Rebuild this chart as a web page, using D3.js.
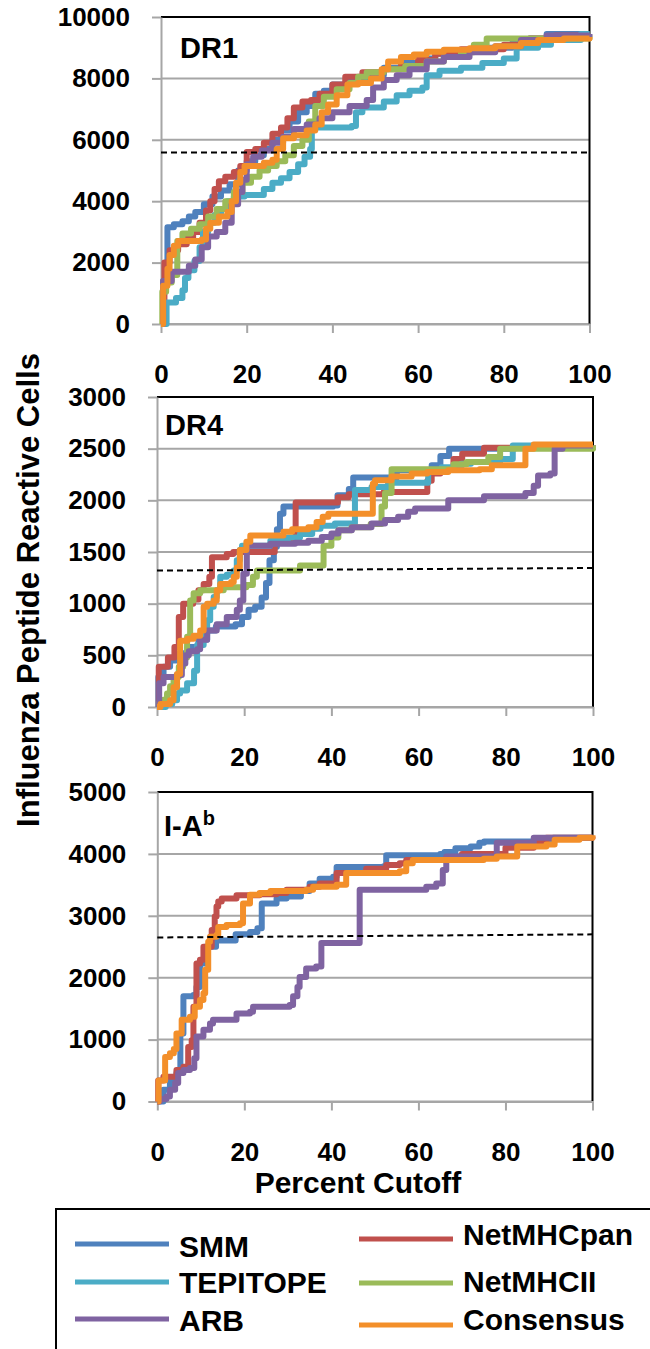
<!DOCTYPE html>
<html>
<head>
<meta charset="utf-8">
<script src="https://cdn.jsdelivr.net/npm/d3@7"></script>
<style>
  body { margin: 0; background: #fff; }
  text { font-family: "Liberation Sans", Arial, sans-serif; font-weight: bold; fill: #000; }
</style>
</head>
<body>
<svg width="650" height="1349"></svg>
<script>
// ---- data: [percent cutoff, reactive cells] ----
var methods = ["SMM", "TEPITOPE", "ARB", "NetMHCpan", "NetMHCII", "Consensus"];
var xTicks = [0, 20, 40, 60, 80, 100];
var dr1Ticks = [0, 2000, 4000, 6000, 8000, 10000];
var dr4Ticks = [0, 500, 1000, 1500, 2000, 2500, 3000];
var iabTicks = [0, 1000, 2000, 3000, 4000, 5000];

var dr1SMM = [[0,0],[0.5,1400],[1.5,3150],[3,3250],[5,3350],[6.5,3500],[8,3650],[10,3900],[12,4150],[14,4350],[16,4550],[18,5000],[20,5300],[22,5500],[24,5700],[26,6000],[28,6300],[30,6600],[32,6900],[34,7100],[36,7500],[38,7600],[40,7800],[44,7900],[48,8100],[52,8350],[56,8500],[60,8650],[64,8800],[70,8900],[76,9000],[82,9150],[86,9300],[90,9450],[100,9450]];
var dr1NetMHCpan = [[0,0],[0.8,2000],[2,2400],[4,2600],[6,2800],[7.5,3000],[9,3300],[10.5,3700],[11.5,4000],[12.5,4400],[13.5,4650],[15,4800],[17,4950],[18.5,5150],[20,5600],[22,5700],[24,5900],[26,6200],[28,6400],[29.5,6700],[31,7050],[33,7250],[35,7300],[37,7500],[40,7800],[43,8050],[47,8200],[52,8300],[56,8400],[60,8600],[64,8800],[70,8950],[80,9100],[86,9300],[92,9400],[100,9400]];
var dr1TEPITOPE = [[0,0],[1.3,700],[3.5,850],[5,1100],[5.6,1500],[6.4,1750],[7.8,2050],[9,2500],[9.8,3000],[11,3300],[12.5,3550],[14,3750],[15.5,4000],[17,4150],[19.5,4200],[24,4400],[26,4600],[28,4750],[30,4950],[32,5200],[33.5,5450],[34.8,5700],[35.2,6400],[44.5,6450],[45.5,6900],[47,7050],[52,7250],[55,7450],[58,7600],[61,7700],[62,8100],[65,8250],[70,8350],[75,8500],[80,8650],[83,9000],[88,9100],[91,9250],[98,9450],[100,9450]];
var dr1NetMHCII = [[0,0],[0.3,1050],[1.2,1350],[2.5,1600],[3.8,2700],[5,2950],[7,3100],[9,3250],[11,3500],[13,3750],[15,4000],[17,4300],[19,4600],[21,4800],[23,5000],[25,5150],[27,5300],[29,5500],[31,5800],[33,6000],[34.5,6600],[36,7100],[38,7400],[41,7650],[44,7850],[46,8050],[48,8200],[52,8300],[57,8400],[62,8550],[66,8700],[70,8850],[73,9100],[76,9300],[100,9400]];
var dr1ARB = [[0,0],[0.5,1400],[2.5,1700],[6.5,1900],[8,2100],[9.5,2500],[11,2850],[13,3000],[15,3300],[16.5,3900],[18,4300],[19,4700],[20,5200],[21.5,5450],[23.5,5650],[26,5900],[28.5,6100],[31,6350],[34,6500],[37,6700],[40,6900],[44,7100],[48,7300],[49.5,7700],[52,7950],[55,8100],[58,8300],[62,8550],[66,8700],[72,8850],[78,9050],[84,9250],[90,9400],[100,9450]];
var dr1Consensus = [[0,0],[0.5,1250],[1.5,1800],[2,2250],[3,2550],[4,2700],[9.5,2750],[10.5,3100],[11.5,3300],[13.5,3500],[15.5,3650],[16.5,4000],[17.5,4600],[18.5,4950],[19.5,5150],[24,5250],[26,5350],[27,5700],[28.5,6050],[31,6150],[34,6300],[36,6500],[37.5,6900],[39,7150],[41,7450],[43.5,7800],[46,7850],[49,8000],[51.5,8300],[53,8550],[56,8700],[59,8780],[62,8870],[66,8930],[72,8980],[78,9050],[84,9150],[88,9250],[94,9300],[100,9350]];
var dr1Cut = [[0,5590],[100,5590]];

var dr4SMM = [[0,0],[0.3,290],[1.5,390],[3,450],[5,520],[7,580],[9.5,650],[11.5,740],[13.5,780],[18,800],[19.5,870],[21,940],[22.5,970],[24,1060],[25,1200],[25.8,1420],[26.8,1550],[27.5,1720],[28.2,1870],[29,1940],[40.4,1950],[41.4,2050],[44,2110],[45,2220],[55,2290],[63,2340],[65,2430],[67,2500],[82,2510],[100,2530]];
var dr4NetMHCpan = [[0,0],[0.4,390],[2.5,480],[4,580],[5,870],[6,1000],[8.3,1040],[9.5,1130],[10.7,1190],[12,1260],[12.6,1450],[16,1480],[17.5,1500],[27,1590],[30.8,1630],[31.8,1980],[41.5,2030],[44,2060],[52,2080],[62,2190],[63,2260],[65,2300],[68,2400],[70,2450],[75,2510],[100,2530]];
var dr4TEPITOPE = [[0,0],[2,30],[3.5,65],[4.6,130],[5.3,160],[6.9,230],[8.5,350],[9.2,600],[10.7,710],[11.5,840],[12.2,970],[13,1065],[13.7,1130],[14.5,1260],[16,1280],[17.6,1320],[18.3,1420],[19,1520],[19.5,1560],[26,1610],[30,1640],[32.8,1675],[35.6,1725],[37.5,1755],[40.8,1775],[45.4,2100],[49.2,2130],[53,2170],[62.2,2290],[65.3,2320],[69.8,2355],[72,2370],[78.7,2400],[81.6,2530],[100,2530]];
var dr4NetMHCII = [[0,0],[0.5,40],[1.5,70],[2.3,130],[3,200],[3.8,290],[5,390],[6,480],[6.9,680],[7.6,1030],[8.4,1100],[9.9,1130],[15.3,1160],[20.5,1180],[22,1260],[22.9,1320],[32.8,1370],[38.2,1560],[40,1640],[41.6,1710],[44.6,1740],[49,1770],[51.5,1940],[52.3,2070],[53.8,2300],[68,2350],[71,2370],[76,2420],[78.7,2500],[100,2530]];
var dr4ARB = [[0,0],[0.5,230],[1.5,290],[4.5,310],[5.7,420],[6.5,500],[7.3,540],[9.2,560],[9.9,650],[11.5,740],[13.7,800],[16,870],[18.3,940],[19,1030],[19.8,1290],[20.6,1560],[26,1580],[31.7,1590],[34.7,1610],[37.8,1645],[40,1680],[41.6,1710],[44.7,1740],[49.2,1775],[52.3,1810],[55.3,1840],[57.6,1890],[59.2,1920],[66.8,2000],[75,2040],[84.5,2070],[86.4,2140],[87.4,2240],[90.2,2260],[91.2,2500],[93,2530],[100,2530]];
var dr4Consensus = [[0,0],[0.8,30],[3,65],[3.8,190],[4.6,320],[5.3,640],[7,660],[8.4,690],[9.9,740],[10.7,970],[11.5,1000],[13,1030],[13.7,1130],[14.5,1190],[17,1210],[17.6,1260],[18.3,1350],[19,1520],[20.5,1600],[21.4,1660],[29,1695],[31,1720],[34.7,1740],[36.6,1790],[38,1840],[39.3,1870],[49.5,2160],[50,2195],[53.8,2230],[58.4,2260],[62,2275],[66.8,2290],[74,2300],[76.8,2340],[84.5,2500],[86.4,2540],[100,2540]];
var dr4Cut = [[0,1320],[100,1345]];

var iabSMM = [[0,0],[1.4,190],[2.9,350],[4.4,460],[5.3,1100],[6,1700],[8.3,1720],[9,1850],[9.8,2230],[11,2500],[13.5,2600],[18,2700],[21.3,2740],[23,2800],[24,3200],[27.4,3280],[29.7,3310],[33,3400],[35,3520],[37.3,3600],[40.4,3630],[41.2,3790],[52,3800],[52.6,3980],[65,4000],[66,4030],[68.5,4090],[72,4120],[74,4180],[75.1,4200],[90,4200],[91,4260],[100,4260]];
var iabNetMHCpan = [[0,0],[0.2,340],[1.4,400],[4.4,510],[6,560],[7.1,880],[7.9,990],[8.3,1530],[9,2230],[9.8,2290],[10.6,2500],[12.5,2770],[13.2,2990],[13.6,3150],[14,3230],[14.8,3280],[18.2,3330],[23.5,3350],[27.4,3370],[29.7,3420],[35,3470],[37.3,3520],[41.2,3690],[48,3760],[52.6,3820],[55.7,3850],[57.2,3900],[66.4,3930],[70,4000],[80,4100],[86.5,4180],[89.4,4260],[100,4280]];
var iabARB = [[0,0],[0.6,40],[2.1,80],[2.9,190],[4.1,300],[4.8,460],[6,510],[7.5,540],[8.5,700],[9,1050],[10.6,1160],[12.1,1260],[12.8,1320],[18.2,1420],[21.3,1450],[22,1530],[30.4,1560],[31.2,1700],[32.2,1850],[32.7,2010],[34.2,2150],[36.5,2180],[37.7,2560],[46.5,3420],[61.8,3470],[64.1,3520],[65.6,3740],[66.4,3960],[78,4180],[86.5,4260],[100,4260]];
var iabConsensus = [[0,0],[0.3,340],[1.8,720],[2.9,780],[3.8,850],[4.4,1100],[5.6,1320],[7.5,1370],[8.6,1530],[9.8,1640],[10.6,1750],[11,2130],[11.7,2580],[12.1,2660],[13.6,2690],[14,2820],[15.9,2850],[19,2880],[19.7,3200],[21.3,3340],[23.5,3370],[26,3400],[34.2,3420],[35.8,3470],[41.2,3500],[43.4,3690],[55.7,3720],[57.2,3850],[58.7,3900],[75,3920],[78,3960],[82.7,4120],[89.4,4150],[91.3,4230],[97,4260],[100,4300]];
var iabCut = [[0,2650],[100,2700]];

var colors = {
  SMM: "#4f81bd", TEPITOPE: "#4bacc6", ARB: "#7f63a1",
  NetMHCpan: "#c0504d", NetMHCII: "#9bbb59", Consensus: "#f38f2a"
};

var panels = [
  { label: "DR1", ticks: dr1Ticks, cut: dr1Cut, box: [161, 589.5, 17, 324], labelX: 180, labelY: 58,
    series: { SMM: dr1SMM, NetMHCpan: dr1NetMHCpan, TEPITOPE: dr1TEPITOPE, NetMHCII: dr1NetMHCII, ARB: dr1ARB, Consensus: dr1Consensus } },
  { label: "DR4", ticks: dr4Ticks, cut: dr4Cut, box: [157, 593, 397, 707], labelX: 165, labelY: 435,
    series: { SMM: dr4SMM, NetMHCpan: dr4NetMHCpan, TEPITOPE: dr4TEPITOPE, NetMHCII: dr4NetMHCII, ARB: dr4ARB, Consensus: dr4Consensus } },
  { label: "I-A", sup: "b", ticks: iabTicks, cut: iabCut, box: [157.3, 592.5, 792, 1101.5], labelX: 164, labelY: 836,
    series: { SMM: iabSMM, NetMHCpan: iabNetMHCpan, ARB: iabARB, Consensus: iabConsensus } }
];
var drawOrder = ["SMM", "NetMHCpan", "TEPITOPE", "NetMHCII", "ARB", "Consensus"];

var svg = d3.select("svg");
var gridColor = "#a6a6a6";

panels.forEach(function(p) {
  var left = p.box[0], right = p.box[1], top = p.box[2], bottom = p.box[3];
  var x = d3.scaleLinear().domain([0, 100]).range([left, right]);
  var y = d3.scaleLinear().domain([0, d3.max(p.ticks)]).range([bottom, top]);
  var g = svg.append("g");

  // gridlines
  g.selectAll(".grid").data(p.ticks.slice(0, -1)).enter().append("line")
      .attr("x1", left).attr("x2", right)
      .attr("y1", function(d) { return y(d); }).attr("y2", function(d) { return y(d); })
      .attr("stroke", gridColor).attr("stroke-width", 2);

  // frame: black top and right
  g.append("path")
      .attr("d", "M" + left + "," + top + "H" + right + "V" + bottom)
      .attr("fill", "none").attr("stroke", "#000").attr("stroke-width", 2);

  var ya = g.append("g")
      .attr("transform", "translate(" + left + ",0)")
      .call(d3.axisLeft(y).tickValues(p.ticks).tickFormat(d3.format("d"))
        .tickSize(9).tickSizeOuter(0).tickPadding(22));
  var xa = g.append("g")
      .attr("transform", "translate(0," + bottom + ")")
      .call(d3.axisBottom(x).tickValues(xTicks).tickFormat(d3.format("d"))
        .tickSize(9).tickSizeOuter(0).tickPadding(32));
  [ya, xa].forEach(function(a) {
    a.selectAll("path, line").attr("stroke", gridColor).attr("stroke-width", 2);
    a.selectAll("text").attr("font-size", 26).attr("font-family", "'Liberation Sans', Arial, sans-serif")
      .attr("font-weight", "bold").attr("fill", "#000");
  });

  var line = d3.line()
      .x(function(d) { return x(d[0]); })
      .y(function(d) { return y(d[1]); })
      .curve(d3.curveStepAfter);

  drawOrder.forEach(function(m) {
    if (!p.series[m]) return;
    g.append("path")
        .datum(p.series[m])
        .attr("fill", "none")
        .attr("stroke", colors[m])
        .attr("stroke-width", 6)
        .attr("stroke-linejoin", "round")
        .attr("d", line);
  });

  g.append("path")
      .datum(p.cut)
      .attr("fill", "none")
      .attr("stroke", "#000")
      .attr("stroke-width", 2)
      .attr("stroke-dasharray", "6,4")
      .attr("d", d3.line().x(function(d) { return x(d[0]); }).y(function(d) { return y(d[1]); }));

  var t = g.append("text")
      .attr("x", p.labelX).attr("y", p.labelY)
      .attr("font-size", 29)
      .text(p.label);
  if (p.sup) t.append("tspan").attr("font-size", 20).attr("dy", -11).text(p.sup);
});

// axis titles
svg.append("text")
    .attr("transform", "translate(39,590) rotate(-90)")
    .attr("text-anchor", "middle")
    .attr("font-size", 31)
    .text("Influenza Peptide Reactive Cells");
svg.append("text")
    .attr("x", 358).attr("y", 1193)
    .attr("text-anchor", "middle")
    .attr("font-size", 30)
    .text("Percent Cutoff");

// legend
svg.append("rect")
    .attr("x", 56).attr("y", 1209).attr("width", 620).attr("height", 200)
    .attr("fill", "none").attr("stroke", "#000").attr("stroke-width", 2);

var legendPos = {
  SMM: [75, 1244, 1257], TEPITOPE: [75, 1282, 1293], ARB: [75, 1319, 1331],
  NetMHCpan: [359, 1239, 1245], NetMHCII: [359, 1283, 1292], Consensus: [359, 1325, 1330]
};
methods.forEach(function(m) {
  var lp = legendPos[m];
  svg.append("line")
      .attr("x1", lp[0]).attr("x2", lp[0] + 94)
      .attr("y1", lp[1]).attr("y2", lp[1])
      .attr("stroke", colors[m]).attr("stroke-width", 5);
  svg.append("text")
      .attr("x", lp[0] + 104).attr("y", lp[2])
      .attr("font-size", 30)
      .text(m);
});
</script>
</body>
</html>
